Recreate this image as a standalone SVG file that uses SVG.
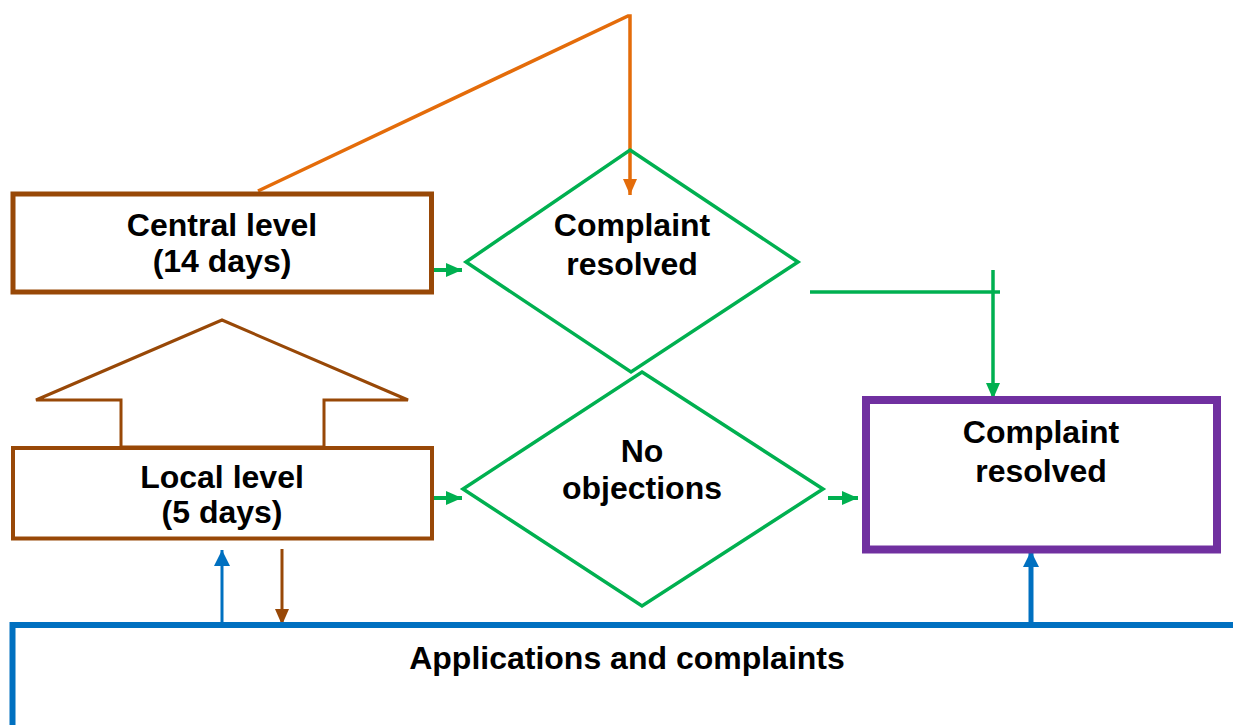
<svg xmlns="http://www.w3.org/2000/svg" width="1233" height="725" viewBox="0 0 1233 725">
<style>
text{font-family:"Liberation Sans",Arial,sans-serif;font-weight:bold;font-size:32px;fill:#000;text-anchor:middle}
.g{stroke:#00B050;fill:none}
.b{stroke:#0070C0;fill:none}
.br{stroke:#984807;fill:none}
.o{stroke:#E46C0A;fill:none}
</style>
<defs>
<marker id="ag" markerUnits="userSpaceOnUse" markerWidth="16" markerHeight="14" refX="16" refY="7" orient="auto"><path d="M0,0 L16,7 L0,14 Z" fill="#00B050"/></marker>
<marker id="ab" markerUnits="userSpaceOnUse" markerWidth="16" markerHeight="16" refX="16" refY="8" orient="auto"><path d="M0,0 L16,8 L0,16 Z" fill="#0070C0"/></marker>
<marker id="abr" markerUnits="userSpaceOnUse" markerWidth="16" markerHeight="14" refX="16" refY="7" orient="auto"><path d="M0,0 L16,7 L0,14 Z" fill="#984807"/></marker>
<marker id="ao" markerUnits="userSpaceOnUse" markerWidth="16" markerHeight="14" refX="16" refY="7" orient="auto"><path d="M0,0 L16,7 L0,14 Z" fill="#E46C0A"/></marker>
</defs>
<rect width="1233" height="725" fill="#fff"/>
<g id="connectors">
<polyline class="o" stroke-width="3.5" points="258,191 628,16 630,16 630,195" marker-end="url(#ao)"/>
<line class="g" stroke-width="4" x1="434" y1="270" x2="462" y2="270" marker-end="url(#ag)"/>
<line class="g" stroke-width="4" x1="433" y1="498" x2="462" y2="498" marker-end="url(#ag)"/>
<line class="g" stroke-width="4" x1="828" y1="498" x2="858" y2="498" marker-end="url(#ag)"/>
<line class="g" stroke-width="3.5" x1="810" y1="292" x2="1000" y2="292"/>
<line class="g" stroke-width="3.5" x1="993" y1="270" x2="993" y2="399" marker-end="url(#ag)"/>
<line class="b" stroke-width="3" x1="222" y1="625" x2="222" y2="550" marker-end="url(#ab)"/>
<line class="br" stroke-width="3" x1="282" y1="549" x2="282" y2="625" marker-end="url(#abr)"/>
<line class="b" stroke-width="5" x1="1031" y1="625" x2="1031" y2="551" marker-end="url(#ab)"/>
</g>
<g id="central-level">
<rect class="br" stroke-width="5" x="13" y="194" width="418.5" height="98"/>
<text x="222" y="236">Central level</text>
<text x="222" y="272">(14 days)</text>
</g>
<g id="decision-resolved">
<polygon class="g" stroke-width="3.5" points="630,150 798,262 631,372 466,262"/>
<text x="632" y="236">Complaint</text>
<text x="632" y="275">resolved</text>
</g>
<g id="up-arrow">
<polygon class="br" stroke-width="3" fill="#fff" points="121,447 121,400 36,400 222,320 408,400 324,400 324,447"/>
</g>
<g id="local-level">
<rect class="br" stroke-width="4" x="13" y="448" width="419" height="90.5"/>
<text x="222" y="488">Local level</text>
<text x="222" y="523">(5 days)</text>
</g>
<g id="decision-no-objections">
<polygon class="g" stroke-width="3.5" points="642,372 823,489 642,606 463,489"/>
<text x="642" y="462">No</text>
<text x="642" y="499">objections</text>
</g>
<g id="complaint-resolved">
<rect stroke="#7030A0" fill="none" stroke-width="8" x="866" y="400" width="351" height="149.5"/>
<text x="1041" y="443">Complaint</text>
<text x="1041" y="482">resolved</text>
</g>
<g id="applications">
<polyline class="b" stroke-width="6" points="12.5,725 12.5,625 1233,625"/>
<text x="627" y="669">Applications and complaints</text>
</g>
</svg>
